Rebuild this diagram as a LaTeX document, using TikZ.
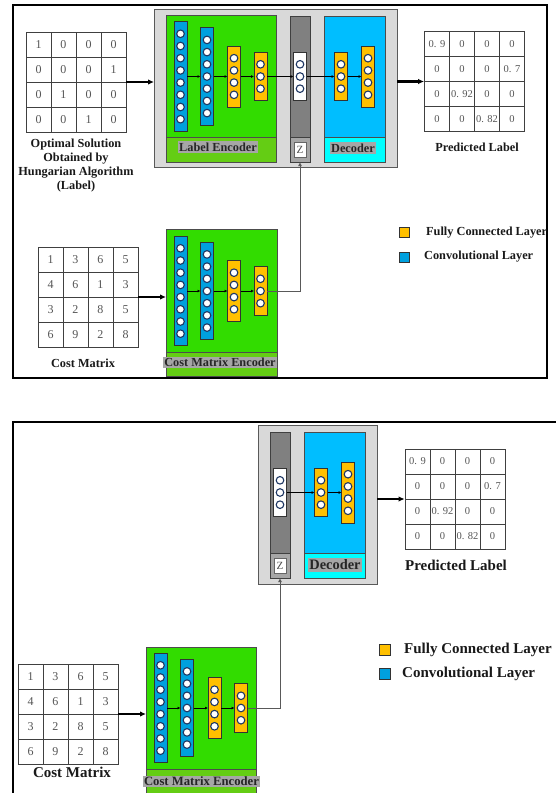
\documentclass[tikz,border=0pt]{standalone}
\usepackage{fontspec}
\setmainfont{Liberation Serif}
\usetikzlibrary{arrows.meta,matrix}
\definecolor{grn}{RGB}{50,220,0}
\definecolor{grnstrip}{RGB}{100,205,20}
\definecolor{convblue}{RGB}{0,160,222}
\definecolor{fcorange}{RGB}{255,192,0}
\definecolor{decblue}{RGB}{0,190,255}
\definecolor{deccyan}{RGB}{0,255,255}
\definecolor{boxgray}{RGB}{217,217,217}
\definecolor{zgray}{RGB}{128,128,128}
\definecolor{zstrip}{RGB}{166,166,166}
\definecolor{labelbg}{RGB}{166,166,166}
\definecolor{numgray}{RGB}{85,85,85}
\definecolor{navy}{RGB}{31,56,100}
\newcommand\boxnode[6]{\node[#2, minimum width={(#5)-(#3)}, minimum height={(#6)-(#4)}] (#1) at ({((#3)+(#5))/2},{((#4)+(#6))/2}) {};}
\newcommand\nnlayer[5]{\node[#2, minimum height={12.2*(#5)+12}] (#1) at (#3,#4) {};
  \foreach \k in {1,...,#5}{\node[neuron] (#1-\k) at (#3,{#4+(\k-((#5)+1)/2)*12.2}) {};}}
\newcommand\ftop{\fontsize{12.3}{14.3}\selectfont\bfseries}
\newcommand\fbot{\fontsize{15}{17}\selectfont\bfseries}
\begin{document}
\begin{tikzpicture}[x=1pt,y=-1pt,
  base/.style={rectangle, inner sep=0pt, outer sep=0pt},
  frame/.style={base, draw=black, line width=1.8pt},
  graybox/.style={base, draw=black!65, fill=boxgray, line width=1pt},
  encbox/.style={base, draw=black!70, fill=grn, line width=0.8pt},
  encstrip/.style={base, draw=black!70, fill=grnstrip, line width=0.8pt},
  zcol/.style={base, draw=black!75, fill=zgray, line width=0.8pt},
  zstripbox/.style={base, draw=black!75, fill=zstrip, line width=0.8pt},
  decbox/.style={base, draw=black!70, fill=decblue, line width=0.8pt},
  decstrip/.style={base, draw=black!70, fill=deccyan, line width=0.8pt},
  conv/.style={base, draw=black!80, fill=convblue, line width=0.8pt, minimum width=13pt},
  fc/.style={base, draw=black!80, fill=fcorange, line width=0.8pt, minimum width=13pt},
  zwhite/.style={base, draw=black!80, fill=white, line width=0.8pt, minimum width=13pt},
  neuron/.style={circle, draw=navy, fill=white, line width=1.1pt, minimum size=7.6pt, inner sep=0pt},
  lblbg/.style={base, fill=labelbg, inner xsep=1pt, inner ysep=1.5pt, text=black!85},
  zlabel/.style={base, draw=black!60, fill=white, minimum width=12pt, minimum height=15pt, font=\fontsize{11}{11}\selectfont, text=black!70},
  txt/.style={inner sep=0pt, text=black!90},
  mat/.style={matrix of nodes, inner sep=0pt, outer sep=0pt, column sep=-0.8pt, row sep=-0.8pt,
    nodes={draw=black!75, line width=0.8pt, minimum width=25pt, minimum height=25pt, inner sep=0pt, outer sep=0pt, anchor=center, text=numgray, font=\fontsize{12}{12}\selectfont}},
  pmat/.style={mat, nodes={font=\fontsize{10.5}{10.5}\selectfont}},
  thickarrow/.style={line width=2.2pt, -{Latex[length=6pt,width=5.5pt]}},
  link/.style={line width=0.9pt, -{Latex[length=3pt,width=3pt]}},
  zlink/.style={draw=black!65, line width=0.9pt, -{Latex[open,length=4pt,width=4pt]}},
  legsq/.style={base, draw=black!80, line width=0.8pt}
]
\useasboundingbox (0,0) rectangle (556,793);
\fill[white] (0,0) rectangle (556,793);
\clip (0,0) rectangle (556,793);

% ================= TOP PANEL =================
\boxnode{frameA}{frame}{13}{5}{547}{378}
\boxnode{gA}{graybox}{154}{9}{397}{167}
% label encoder
\boxnode{leA}{encbox}{166}{15}{276}{162}
\boxnode{lestripA}{encstrip}{166}{137}{276}{162}
\node[lblbg, font=\ftop] (leText) at (218,147) {Label Encoder};
\nnlayer{le1}{conv}{180.5}{76.5}{8}
\nnlayer{le2}{conv}{207}{76.5}{7}
\nnlayer{le3}{fc}{234}{76.5}{4}
\nnlayer{le4}{fc}{260.5}{76.5}{3}
% Z column
\boxnode{zcA}{zcol}{290}{16}{310}{162}
\boxnode{zsA}{zstripbox}{290}{137}{310}{162}
\nnlayer{zwA}{zwhite}{300}{76.5}{3}
\node[zlabel] (zlA) at (300,149.5) {Z};
% decoder
\boxnode{dcA}{decbox}{324}{16}{385}{162}
\boxnode{dsA}{decstrip}{324}{137}{385}{162}
\node[lblbg, font=\ftop] (dcText) at (353,148) {Decoder};
\nnlayer{dA1}{fc}{341}{76.5}{3}
\nnlayer{dA2}{fc}{368}{76.5}{4}
% links
\draw[link] (le1) -- (le2);
\draw[link] (le2) -- (le3);
\draw[link] (le3) -- (le4);
\draw[link] (le4) -- (zwA);
\draw[link] (zwA) -- (dA1);
\draw[link] (dA1) -- (dA2);
% label matrix
\matrix (lm) at (76,82) [mat] {
1 & 0 & 0 & 0\\
0 & 0 & 0 & 1\\
0 & 1 & 0 & 0\\
0 & 0 & 1 & 0\\};
\node[txt, align=center, font=\ftop] (lmText) at (76,165.5) {Optimal Solution\\Obtained by\\Hungarian Algorithm\\(Label)};
% predicted matrix
\matrix (pmA) at (474.5,81.5) [pmat] {
0. 9 & 0 & 0 & 0\\
0 & 0 & 0 & 0. 7\\
0 & 0. 92 & 0 & 0\\
0 & 0 & 0. 82 & 0\\};
\node[txt, font=\ftop] (pmAText) at (477,147) {Predicted Label};
\draw[thickarrow] (lm.east) -- (lm.east -| gA.west);
\draw[thickarrow] (gA.east |- pmA.west) -- (pmA.west);
% cost matrix part
\matrix (cmA) at (88,297) [mat] {
1 & 3 & 6 & 5\\
4 & 6 & 1 & 3\\
3 & 2 & 8 & 5\\
6 & 9 & 2 & 8\\};
\node[txt, font=\ftop] (cmAText) at (83,363) {Cost Matrix};
\boxnode{ceA}{encbox}{166}{229}{277}{376}
\boxnode{cestripA}{encstrip}{166}{352}{277}{376}
\node[lblbg, font=\ftop] (ceAText) at (220,362.5) {Cost Matrix Encoder};
\nnlayer{ce1}{conv}{180.5}{291}{8}
\nnlayer{ce2}{conv}{207}{291}{7}
\nnlayer{ce3}{fc}{234}{291}{4}
\nnlayer{ce4}{fc}{260.5}{291}{3}
\draw[link] (ce1) -- (ce2);
\draw[link] (ce2) -- (ce3);
\draw[link] (ce3) -- (ce4);
\draw[thickarrow] (cmA.east) -- (cmA.east -| ceA.west);
\draw[zlink] (ce4.east) -| (zcA.south);
% legend
\node[legsq, fill=fcorange, minimum size=10pt] (lgA1) at (404,232.5) {};
\node[txt, anchor=west, font=\ftop] (lgA1t) at (426,233) {Fully Connected Layer};
\node[legsq, fill=convblue, minimum size=10pt] (lgA2) at (404,257) {};
\node[txt, anchor=west, font=\ftop] (lgA2t) at (424,257) {Convolutional Layer};

% ================= BOTTOM PANEL =================
\boxnode{frameB}{frame}{13}{422}{600}{850}
\boxnode{gB}{graybox}{258}{425}{377}{584}
\boxnode{zcB}{zcol}{270}{432}{290}{578}
\boxnode{zsB}{zstripbox}{270}{553}{290}{578}
\nnlayer{zwB}{zwhite}{280}{492.5}{3}
\node[zlabel] (zlB) at (280,565.5) {Z};
\boxnode{dcB}{decbox}{304}{432}{365}{578}
\boxnode{dsB}{decstrip}{304}{553}{365}{578}
\node[lblbg, font=\fontsize{14.4}{16}\selectfont\bfseries] (dcBText) at (335,565) {Decoder};
\nnlayer{dB1}{fc}{321}{492.5}{3}
\nnlayer{dB2}{fc}{348}{492.5}{4}
\draw[link] (zwB) -- (dB1);
\draw[link] (dB1) -- (dB2);
\matrix (pmB) at (455,499) [pmat] {
0. 9 & 0 & 0 & 0\\
0 & 0 & 0 & 0. 7\\
0 & 0. 92 & 0 & 0\\
0 & 0 & 0. 82 & 0\\};
\node[txt, font=\fbot] (pmBText) at (456,565) {Predicted Label};
\draw[thickarrow] (gB.east |- pmB.west) -- (pmB.west);
\matrix (cmB) at (68,714) [mat] {
1 & 3 & 6 & 5\\
4 & 6 & 1 & 3\\
3 & 2 & 8 & 5\\
6 & 9 & 2 & 8\\};
\node[txt, font=\fbot] (cmBText) at (72,772) {Cost Matrix};
\boxnode{ceB}{encbox}{146}{647}{256}{810}
\boxnode{cestripB}{encstrip}{146}{769}{256}{810}
\node[lblbg, font=\fontsize{12.7}{14}\selectfont\bfseries] (ceBText) at (201.5,781.5) {Cost Matrix Encoder};
\nnlayer{cb1}{conv}{160.5}{708}{8}
\nnlayer{cb2}{conv}{187}{708}{7}
\nnlayer{cb3}{fc}{214.5}{708}{4}
\nnlayer{cb4}{fc}{241}{708}{3}
\draw[link] (cb1) -- (cb2);
\draw[link] (cb2) -- (cb3);
\draw[link] (cb3) -- (cb4);
\draw[thickarrow] (cmB.east) -- (cmB.east -| ceB.west);
\draw[zlink] (cb4.east) -| (zcB.south);
\node[legsq, fill=fcorange, minimum size=11pt] (lgB1) at (384.5,649.5) {};
\node[txt, anchor=west, font=\fbot] (lgB1t) at (404,650) {Fully Connected Layer};
\node[legsq, fill=convblue, minimum size=11pt] (lgB2) at (384.5,673.5) {};
\node[txt, anchor=west, font=\fbot] (lgB2t) at (402,674) {Convolutional Layer};
\end{tikzpicture}
\end{document}
